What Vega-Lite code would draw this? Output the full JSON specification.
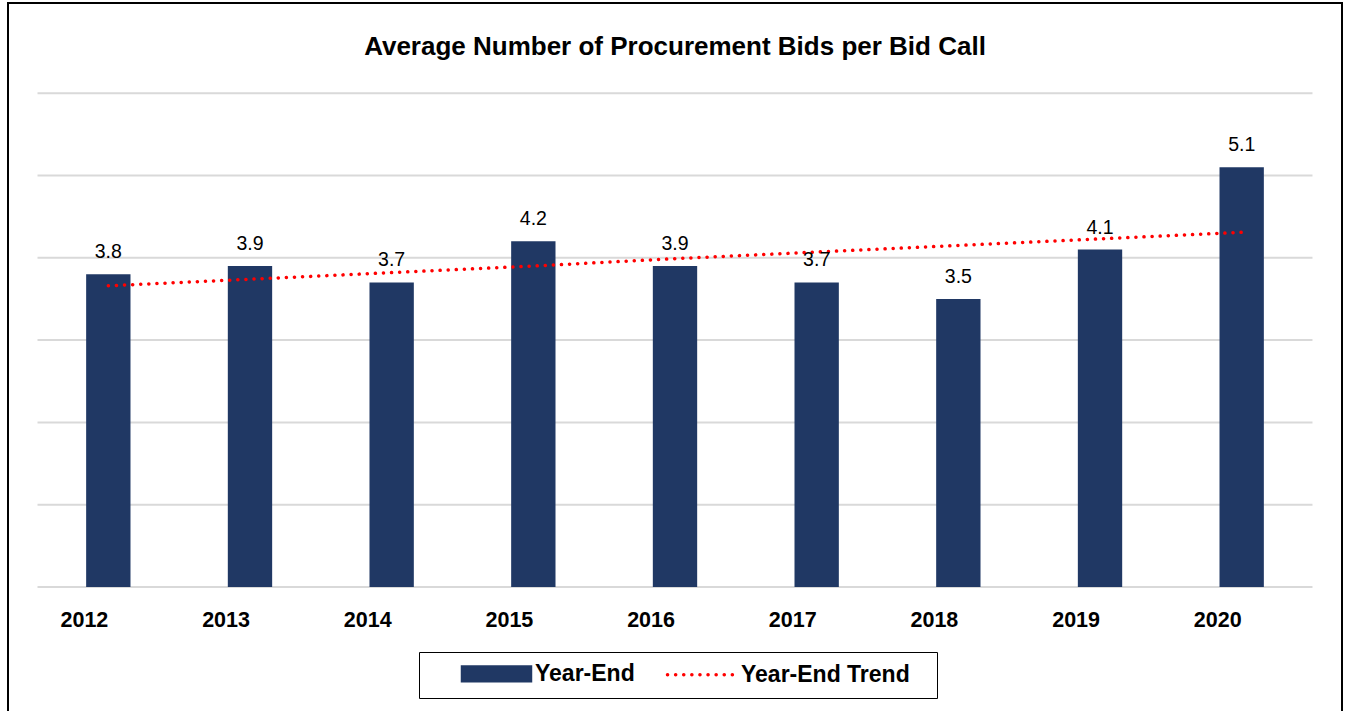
{
  "$schema": "https://vega.github.io/schema/vega-lite/v6.json",
  "width": 1334,
  "height": 710,
  "autosize": {"type": "none"},
  "padding": {"left": 8, "top": 3, "right": 4, "bottom": 0},
  "background": "white",
  "config": {
    "view": {"stroke": "black", "strokeWidth": 2},
    "font": "Liberation Sans"
  },
  "title": {
    "text": "Average Number of Procurement Bids per Bid Call",
    "font": "Liberation Sans",
    "fontSize": 26,
    "fontWeight": "bold",
    "color": "black",
    "anchor": "middle",
    "baseline": "alphabetic",
    "offset": -78,
    "frame": "group"
  },
  "data": {
    "values": [
      {"year": "2012", "value": 3.8, "trend": 3.66},
      {"year": "2013", "value": 3.9, "trend": 3.74},
      {"year": "2014", "value": 3.7, "trend": 3.82},
      {"year": "2015", "value": 4.2, "trend": 3.90},
      {"year": "2016", "value": 3.9, "trend": 3.99},
      {"year": "2017", "value": 3.7, "trend": 4.07},
      {"year": "2018", "value": 3.5, "trend": 4.15},
      {"year": "2019", "value": 4.1, "trend": 4.23},
      {"year": "2020", "value": 5.1, "trend": 4.31}
    ]
  },
  "layer": [
    {
      "data": {"values": [{"v": 0}, {"v": 1}, {"v": 2}, {"v": 3}, {"v": 4}, {"v": 5}, {"v": 6}]},
      "mark": {"type": "rule", "color": "#D9D9D9", "strokeWidth": 2, "xOffset": -70.8, "x2Offset": 70.8},
      "encoding": {
        "x": {"datum": "2012", "type": "nominal"},
        "x2": {"datum": "2020"},
        "y": {"field": "v", "type": "quantitative", "axis": null}
      }
    },
    {
      "mark": {"type": "bar", "fill": "#203864"},
      "encoding": {
        "x": {
          "field": "year",
          "type": "nominal",
          "sort": null,
          "scale": {
            "domain": ["2012", "2013", "2014", "2015", "2016", "2017", "2018", "2019", "2020"],
            "paddingInner": 0.687,
            "paddingOuter": 0.5516
          },
          "axis": {
            "title": null,
            "labelAngle": 0,
            "domain": false,
            "ticks": false,
            "grid": false,
            "labelFont": "Liberation Sans",
            "labelFontSize": 21.5,
            "labelFontWeight": "bold",
            "labelColor": "black",
            "labelBaseline": "alphabetic",
            "offset": -126,
            "labelPadding": 39
          }
        },
        "y": {
          "field": "value",
          "type": "quantitative",
          "scale": {"domain": [-1.531, 7.096], "nice": false, "zero": false},
          "axis": null
        },
        "y2": {"datum": 0},
        "color": {
          "datum": "Year-End",
          "type": "nominal",
          "scale": {"domain": ["Year-End", "Year-End Trend"], "range": ["#203864", "#FF0000"]},
          "legend": {
            "orient": "none",
            "legendX": 411,
            "legendY": 649,
            "direction": "horizontal",
            "title": null,
            "strokeColor": "black",
            "padding": 10,
            "labelFont": "Liberation Sans",
            "labelFontSize": 23,
            "labelFontWeight": "bold",
            "labelColor": "black",
            "labelLimit": 400,
            "labelExpr": "datum.label === 'Year-End Trend' ? datum.label + '\u2800' : datum.label",
            "symbolOffset": 56,
            "labelOffset": 27,
            "columnPadding": 0,
            "symbolSize": 196,
            "symbolType": "circle",
            "encode": {
              "symbols": {
                "update": {
                  "shape": {"signal": "datum.value === 'Year-End' ? 'M-4.857,-0.979H4.857V0.979H-4.857Z' : 'M-5,0H5'"},
                  "fill": {"signal": "datum.value === 'Year-End' ? '#203864' : 'transparent'"},
                  "stroke": {"signal": "datum.value === 'Year-End' ? 'transparent' : '#FF0000'"},
                  "strokeDash": {"signal": "datum.value === 'Year-End' ? [1, 0] : [0.1, 8]"},
                  "strokeWidth": {"value": 3.5},
                  "strokeCap": {"value": "round"},
                  "opacity": {"value": 1}
                }
              }
            }
          }
        }
      }
    },
    {
      "mark": {"type": "line", "strokeWidth": 3.5, "strokeDash": [0.1, 8], "strokeCap": "round"},
      "encoding": {
        "x": {"field": "year", "type": "nominal", "sort": null},
        "y": {"field": "trend", "type": "quantitative", "axis": null},
        "color": {"datum": "Year-End Trend", "type": "nominal"}
      }
    },
    {
      "mark": {"type": "text", "dy": -16, "baseline": "alphabetic", "fontSize": 19.5, "font": "Liberation Sans", "color": "black"},
      "encoding": {
        "x": {"field": "year", "type": "nominal", "sort": null},
        "y": {"field": "value", "type": "quantitative", "axis": null},
        "text": {"field": "value", "type": "quantitative", "format": ".1f"}
      }
    }
  ]
}
